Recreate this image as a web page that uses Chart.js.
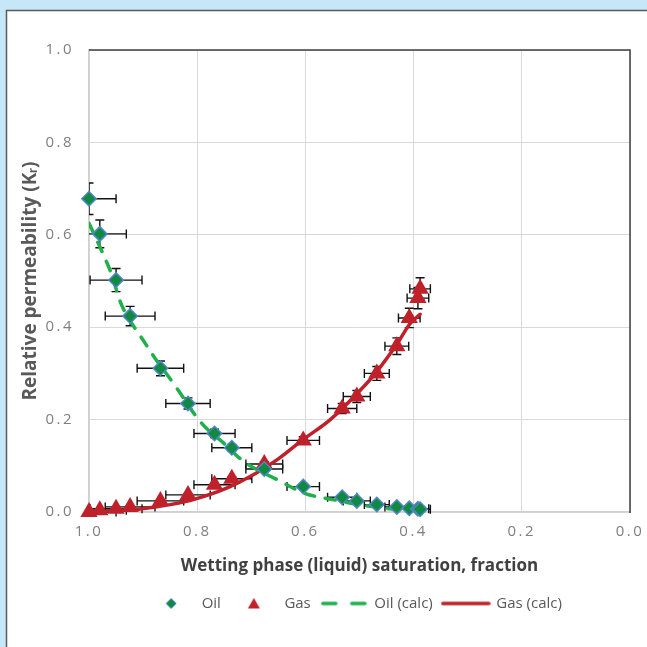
<!DOCTYPE html>
<html><head><meta charset="utf-8">
<script src="https://cdn.jsdelivr.net/npm/chart.js@4.4.1/dist/chart.umd.min.js"></script>
<style>html,body{margin:0;padding:0;background:#c6e7f8;overflow:hidden}
canvas{display:block}</style>
</head><body>
<canvas id="c" width="647" height="647" style="width:647px;height:647px"></canvas>
<script>
// ---- data ----
const seriesNames = ['Oil', 'Gas', 'Oil (calc)', 'Gas (calc)'];
const xTickLabels = ['0.0', '0.2', '0.4', '0.6', '0.8', '1.0'];
const yTickLabels = ['0.0', '0.2', '0.4', '0.6', '0.8', '1.0'];

const saturation    = [1.000, 0.980, 0.950, 0.924, 0.868, 0.817, 0.768, 0.736, 0.676, 0.604, 0.532, 0.505, 0.468, 0.431, 0.408, 0.392, 0.388];
const saturationErr = [0.050, 0.049, 0.048, 0.046, 0.043, 0.041, 0.038, 0.037, 0.034, 0.030, 0.027, 0.025, 0.023, 0.022, 0.020, 0.020, 0.019];
const oilKr         = [0.678, 0.602, 0.502, 0.424, 0.311, 0.235, 0.170, 0.139, 0.093, 0.055, 0.032, 0.024, 0.016, 0.011, 0.008, 0.007, 0.006];
const oilKrErr      = [0.034, 0.030, 0.025, 0.021, 0.016, 0.012, 0.009, 0.007, 0.005, 0.003, 0.002, 0.001, 0.001, 0.001, 0.000, 0.000, 0.000];
const gasKr         = [0.000, 0.004, 0.007, 0.011, 0.024, 0.037, 0.059, 0.072, 0.104, 0.155, 0.224, 0.250, 0.300, 0.359, 0.420, 0.463, 0.483];
const gasKrErr      = [0.000, 0.000, 0.000, 0.001, 0.001, 0.002, 0.003, 0.004, 0.005, 0.008, 0.011, 0.013, 0.015, 0.018, 0.021, 0.023, 0.024];

const oilCalcSat = [1.000, 0.985, 0.960, 0.937, 0.896, 0.878, 0.840, 0.804, 0.782, 0.750, 0.725, 0.699, 0.652, 0.600, 0.550, 0.500, 0.450, 0.407];
const oilCalcKr  = [0.625, 0.587, 0.520, 0.441, 0.365, 0.333, 0.272, 0.210, 0.180, 0.148, 0.120, 0.098, 0.070, 0.040, 0.027, 0.016, 0.008, 0.004];
const gasCalcSat = [1.000, 0.950, 0.902, 0.850, 0.804, 0.749, 0.693, 0.650, 0.604, 0.554, 0.500, 0.468, 0.431, 0.407, 0.388];
const gasCalcKr  = [0.000, 0.003, 0.007, 0.016, 0.028, 0.050, 0.083, 0.115, 0.157, 0.200, 0.262, 0.304, 0.363, 0.407, 0.428];

// ---- helpers ----
const pts = (xs, ys) => xs.map((x, i) => ({x, y: ys[i]}));
const GREEN = '#108a41', BLUE = '#4f86c6', RED = '#c0202a', CALC_GREEN = '#1fb04b';

function icon(w, h, draw){ const c = document.createElement('canvas'); c.width = w; c.height = h; draw(c.getContext('2d')); return c; }
const legendIcons = [
  icon(46, 16, g => { g.beginPath(); g.moveTo(18,8); g.lineTo(23,3); g.lineTo(28,8); g.lineTo(23,13); g.closePath(); g.fillStyle = GREEN; g.fill(); g.lineWidth = 1; g.strokeStyle = BLUE; g.stroke(); }),
  icon(46, 16, g => { g.beginPath(); g.moveTo(23,2.5); g.lineTo(29,13); g.lineTo(17,13); g.closePath(); g.fillStyle = RED; g.fill(); }),
  icon(46, 16, g => { g.lineCap = 'round'; g.lineWidth = 3.5; g.strokeStyle = CALC_GREEN; g.beginPath(); g.moveTo(2,8); g.lineTo(15,8); g.moveTo(31,8); g.lineTo(44,8); g.stroke(); }),
  icon(50, 16, g => { g.lineCap = 'round'; g.lineWidth = 3.5; g.strokeStyle = RED; g.beginPath(); g.moveTo(2,8); g.lineTo(48,8); g.stroke(); })
];

const pagePlugin = {
  id: 'page',
  afterLayout(chart){
    // the legend is centred on the (wider) chart frame, which runs past the right edge
    if (chart.legend){ chart.legend.left += 40; chart.legend.right += 40; }
  },
  beforeDraw(chart){
    const g = chart.ctx;
    g.save();
    g.fillStyle = '#c6e7f8'; g.fillRect(0, 0, chart.width, chart.height);
    g.fillStyle = '#ffffff'; g.fillRect(6.5, 10.5, chart.width, chart.height);
    g.strokeStyle = '#5a5a5a'; g.lineWidth = 1.5;
    g.strokeRect(6.5, 10.5, chart.width + 20, chart.height + 20);
    g.restore();
    // letter-spaced tick labels
    ['x','y'].forEach(id => {
      const s = chart.scales[id];
      if (s && !s._lsPatched){
        const orig = s.drawLabels.bind(s);
        s.drawLabels = function(area){ const c = this.ctx; c.save(); c.letterSpacing = '2.5px'; orig(area); c.restore(); };
        s._lsPatched = true;
      }
    });
  },
  beforeDatasetsDraw(chart){
    const g = chart.ctx, a = chart.chartArea, xs = chart.scales.x, ys = chart.scales.y;
    // secondary frame lines (top & right)
    g.save();
    g.strokeStyle = '#3f3f3f'; g.lineWidth = 1.5;
    g.beginPath(); g.moveTo(a.left, a.top); g.lineTo(a.right, a.top); g.lineTo(a.right, a.bottom + 1); g.stroke();
    // error bars
    g.beginPath(); g.rect(a.left, a.top - 20, a.right - a.left, a.bottom - a.top + 40); g.clip();
    g.strokeStyle = '#111'; g.lineWidth = 1.4;
    const cap = 4.5;
    const bars = (ys_, yErr) => {
      saturation.forEach((s, i) => {
        const px = xs.getPixelForValue(s), py = ys.getPixelForValue(ys_[i]);
        const x1 = xs.getPixelForValue(s - saturationErr[i]), x2 = xs.getPixelForValue(s + saturationErr[i]);
        g.beginPath();
        g.moveTo(x1, py); g.lineTo(x2, py);
        g.moveTo(x1, py - cap); g.lineTo(x1, py + cap);
        g.moveTo(x2, py - cap); g.lineTo(x2, py + cap);
        const e = yErr[i];
        const y1 = ys.getPixelForValue(ys_[i] + e), y2 = ys.getPixelForValue(ys_[i] - e);
        g.moveTo(px, y1); g.lineTo(px, y2);
        g.moveTo(px - cap, y1); g.lineTo(px + cap, y1);
        g.moveTo(px - cap, y2); g.lineTo(px + cap, y2);
        g.stroke();
      });
    };
    bars(oilKr, oilKrErr);
    bars(gasKr, gasKrErr);
    g.restore();
  }
};

const tickFont = {family: "'Open Sans', sans-serif", size: 15};

new Chart(document.getElementById('c'), {
  type: 'scatter',
  data: {
    datasets: [
      {label: seriesNames[0], data: pts(saturation, oilKr), pointStyle: 'rectRot', pointRadius: 7.2, pointBackgroundColor: GREEN, pointBorderColor: BLUE, pointBorderWidth: 1.5, showLine: false, clip: false, order: 0},
      {label: seriesNames[1], data: pts(saturation, gasKr), pointStyle: 'triangle', pointRadius: 10, pointBackgroundColor: RED, pointBorderColor: RED, pointBorderWidth: 0, showLine: false, clip: false, order: 0},
      {label: seriesNames[2], data: pts(oilCalcSat, oilCalcKr), showLine: true, pointRadius: 0, borderColor: CALC_GREEN, borderWidth: 3.5, borderDash: [10, 11], borderCapStyle: 'round', tension: 0.35, order: 1},
      {label: seriesNames[3], data: pts(gasCalcSat, gasCalcKr), showLine: true, pointRadius: 0, borderColor: RED, borderWidth: 3.5, borderCapStyle: 'round', tension: 0.35, order: 1}
    ]
  },
  options: {
    responsive: false, animation: false, devicePixelRatio: 1,
    layout: {padding: {left: 0, top: 50, right: 17, bottom: 26}},
    plugins: {
      tooltip: {enabled: false},
      legend: {
        position: 'bottom',
        labels: {
          usePointStyle: true, pointStyleWidth: 46, padding: 10,
          color: '#595959', font: {family: "'Open Sans', sans-serif", size: 15},
          generateLabels: chart => chart.data.datasets.map((ds, i) => ({
            text: ds.label, pointStyle: legendIcons[i], fillStyle: 'rgba(0,0,0,0)', strokeStyle: 'rgba(0,0,0,0)',
            lineWidth: 0, hidden: false, datasetIndex: i, fontColor: '#595959'
          }))
        }
      }
    },
    scales: {
      x: {
        type: 'linear', reverse: true, min: 0, max: 1,
        afterBuildTicks: s => { s.ticks = xTickLabels.map(t => ({value: parseFloat(t)})); },
        ticks: {callback: (v, i) => xTickLabels[i], color: '#7f7f7f', font: tickFont, padding: 11, maxRotation: 0},
        grid: {color: '#d9d9d9', lineWidth: 1, drawTicks: false},
        border: {color: '#d0d0d0', width: 1.5},
        title: {display: true, text: 'Wetting phase (liquid) saturation, fraction', color: '#404040',
                font: {family: "'Open Sans', sans-serif", size: 17, weight: 'bold'}, padding: {top: 0, bottom: 10}},
        afterFit: s => { s.height = 74; }
      },
      y: {
        type: 'linear', min: 0, max: 1,
        afterBuildTicks: s => { s.ticks = yTickLabels.map(t => ({value: parseFloat(t)})); },
        ticks: {callback: (v, i) => yTickLabels[i], color: '#7f7f7f', font: tickFont, padding: 15},
        grid: {color: '#d9d9d9', lineWidth: 1, drawTicks: false},
        border: {color: '#d0d0d0', width: 1.5},
        title: {display: true, text: 'Relative permeability (Kᵣ)', color: '#595959',
                font: {family: "'Open Sans', sans-serif", size: 19, weight: 'bold'}, padding: {top: 19, bottom: 0}},
        afterFit: s => { s.width = 89; }
      }
    }
  },
  plugins: [pagePlugin]
});
</script>
</body></html>
